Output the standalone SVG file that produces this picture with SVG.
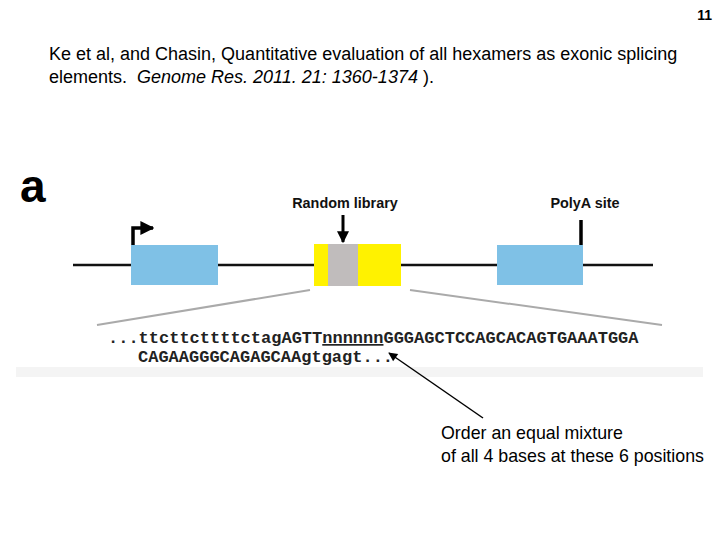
<svg xmlns="http://www.w3.org/2000/svg" width="720" height="540" viewBox="0 0 720 540">
<defs>
<style>
.sans{font-family:"Liberation Sans",Arial,sans-serif;fill:#000}
.lbl{font-family:"Liberation Sans",Arial,sans-serif;font-weight:bold;font-size:14.4px;fill:#111}
.seq{font-family:"Liberation Mono","Courier New",monospace;font-weight:bold;font-size:17px;fill:#222}
.exon{fill:#7fc1e6}
.line{stroke:#111;stroke-width:2.5;fill:none}
.zoom{stroke:#aaaaaa;stroke-width:2;fill:none}
</style>
<marker id="ah" viewBox="0 0 10 10" refX="9" refY="5" markerWidth="4" markerHeight="4" orient="auto">
<path d="M0,0 L10,5 L0,10 z" fill="#000"/>
</marker>
<marker id="ah2" viewBox="0 0 10 10" refX="9" refY="5" markerWidth="8" markerHeight="6" orient="auto">
<path d="M0,0 L10,5 L0,10 z" fill="#000"/>
</marker>
</defs>
<rect width="720" height="540" fill="#ffffff"/>
<text class="sans" x="712" y="20" font-size="14" font-weight="bold" text-anchor="end">11</text>
<text class="sans" x="49" y="60" font-size="18">Ke et al, and Chasin, Quantitative evaluation of all hexamers as exonic splicing</text>
<text class="sans" x="49" y="83" font-size="18" xml:space="preserve">elements.  <tspan font-style="italic">Genome Res. 2011. 21: 1360-1374</tspan> ).</text>
<text class="sans" x="20" y="202" font-size="46" font-weight="bold">a</text>
<rect x="16" y="367" width="687" height="10" fill="#f4f4f4"/>
<g id="connectors">
<line class="line" x1="73" y1="265" x2="653" y2="265"/>
<path d="M133,245 V228 H153" stroke="#000" stroke-width="3.5" fill="none" marker-end="url(#ah)"/>
<line x1="343" y1="215" x2="343" y2="242" stroke="#000" stroke-width="3" marker-end="url(#ah)"/>
<line x1="581" y1="220" x2="581" y2="245" stroke="#000" stroke-width="3.5"/>
<line class="zoom" x1="97" y1="325" x2="310" y2="290"/>
<line class="zoom" x1="410" y1="290" x2="662" y2="325"/>
<line x1="483" y1="418" x2="389" y2="353" stroke="#000" stroke-width="1.5" marker-end="url(#ah2)"/>
</g>
<g id="exon1"><rect class="exon" x="131" y="245" width="87" height="40"/></g>
<g id="random-library">
<rect x="314" y="244" width="87" height="42" fill="#fff200"/>
<rect x="328" y="244" width="30" height="42" fill="#c0bcbc"/>
<text class="lbl" x="345" y="208" text-anchor="middle">Random library</text>
</g>
<g id="exon2"><rect class="exon" x="497" y="245" width="86" height="40"/></g>
<g id="polya"><text class="lbl" x="585" y="208" text-anchor="middle">PolyA site</text></g>
<g id="sequence">
<text class="seq" x="108" y="343">...ttcttcttttctagAGTT<tspan text-decoration="underline">nnnnnn</tspan>GGGAGCTCCAGCACAGTGAAATGGA</text>
<text class="seq" x="138" y="362">CAGAAGGGCAGAGCAAgtgagt...</text>
</g>
<g id="callout">
<text class="sans" x="441" y="439" font-size="17.8">Order an equal mixture</text>
<text class="sans" x="441" y="462" font-size="17.8">of all 4 bases at these 6 positions</text>
</g>
</svg>
